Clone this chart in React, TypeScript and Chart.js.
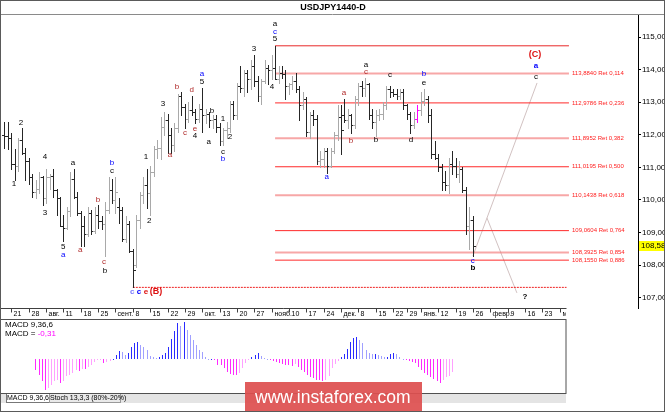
import React, { useEffect, useRef } from "react";
import { Chart, registerables } from "chart.js";

Chart.register(...registerables);

const FONT = '"Liberation Sans", Arial, Helvetica, sans-serif';
const NARROW = '"Liberation Sans Narrow", "Liberation Sans", Arial, sans-serif';

// ---------------- data ----------------
const chartTitle = "USDJPY1440-D";

const barOpen = [
  112.0, 111.95, 111.9, 111.1, 111.05, 111.85, 111.45, 111.2,
  110.7, 110.25, 110.35, 110.7, 110.05,
  110.7, 110.75, 110.3, 110.05, 109.2,
  109.15, 109.65, 110.65, 110.1, 109.6,
  109.2, 108.95, 109.6, 109.05, 109.55,
  109.35, 109.25, 109.7, 110.3, 110.0,
  109.8, 109.7, 108.8, 109.25, 108.45,
  108.0, 109.4, 110.15, 110.45, 110.2,
  110.85, 111.55, 111.6, 112.25, 112.45,
  112.0, 111.7, 112.2, 113.2, 112.85,
  112.5, 112.75, 112.7, 112.5, 112.8,
  112.6, 112.65, 112.45, 112.5, 112.25,
  111.8, 112.15, 112.2, 112.95, 112.6,
  113.5, 113.45, 113.9, 113.7, 114.1,
  113.65, 113.2, 113.65, 114.05, 114.0,
  114.05, 113.7, 113.9, 113.85, 113.5,
  113.55, 113.65, 113.4, 112.9, 113.1,
  112.1, 112.6, 112.5, 111.2, 111.25,
  111.5, 111.05, 111.5, 112.0, 112.55,
  112.6, 112.45, 112.6, 112.3, 113.1,
  113.5, 113.45, 113.55, 112.6, 112.4,
  112.6, 112.65, 112.9, 113.4, 113.3,
  113.25, 113.2, 113.3, 112.9,
  112.65, 112.3, 112.5, 112.75,
  113.05, 113.1, 112.6, 111.4, 111.3,
  111.0, 110.55, 110.45, 111.1, 111.05,
  110.8, 110.95, 110.3, 109.2, 109.4,
];
const barHigh = [
  112.4, 112.4, 112.05, 111.55, 111.9, 112.2, 111.6, 111.3,
  110.8, 110.6, 110.85, 110.75, 110.95,
  110.8, 110.95, 110.35, 110.1, 109.55,
  109.8, 110.85, 110.95, 110.25, 109.65,
  109.5, 109.8, 109.7, 109.8, 109.85,
  109.5, 109.95, 110.7, 110.65, 110.7,
  110.05, 109.8, 109.5, 109.35, 108.5,
  109.55, 110.25, 110.7, 110.95, 111.05,
  111.65, 111.85, 112.55, 112.7, 112.65,
  112.2, 112.35, 113.25, 113.3, 112.95,
  113.0, 113.2, 112.8, 112.95, 113.45,
  112.8, 112.7, 112.6, 112.6, 112.35,
  112.2, 112.4, 113.05, 113.05, 113.6,
  114.1, 114.0, 114.0, 114.3, 114.45,
  113.8, 113.7, 114.3, 114.15, 114.45,
  114.73, 114.1, 114.1, 114.0, 113.6,
  113.8, 113.9, 113.5, 113.3, 113.15,
  112.7, 112.75, 112.6, 111.5, 111.6,
  111.6, 111.6, 112.1, 112.9, 112.9,
  113.1, 112.8, 112.65, 113.2, 113.6,
  113.65, 113.75, 113.6, 112.8, 112.75,
  112.8, 113.0, 113.5, 113.5, 113.4,
  113.4, 113.4, 113.4, 112.95,
  112.7, 112.7, 112.9, 113.3,
  113.4, 113.2, 112.8, 111.8, 111.4,
  111.1, 110.9, 111.3, 111.5, 111.3,
  111.2, 111.0, 110.4, 109.8, 109.5,
];
const barLow = [
  111.6, 111.55, 110.95, 110.6, 110.9, 111.4, 110.6, 110.5,
  110.1, 110.05, 110.2, 109.85, 109.9,
  110.35, 110.1, 109.55, 109.2, 108.75,
  109.1, 109.5, 110.05, 109.55, 108.6,
  108.6, 108.9, 108.95, 109.0, 109.15,
  109.1, 108.27, 109.6, 109.9, 109.6,
  109.3, 108.75, 108.7, 108.4, 107.32,
  107.95, 109.15, 109.9, 109.75, 109.55,
  110.75, 111.3, 111.25, 112.0, 111.45,
  111.45, 111.5, 112.1, 112.6, 112.2,
  112.4, 112.6, 112.35, 112.4, 112.1,
  112.35, 112.25, 112.2, 112.1, 111.7,
  111.7, 111.9, 112.1, 112.5, 112.5,
  113.3, 113.2, 113.3, 113.4, 113.5,
  113.05, 112.95, 113.6, 113.55, 113.7,
  113.7, 113.6, 113.75, 113.1, 113.25,
  113.4, 113.3, 112.45, 112.8, 111.95,
  111.9, 112.3, 111.1, 111.0, 111.0,
  110.84, 111.0, 111.45, 111.85, 111.4,
  112.4, 112.2, 112.05, 112.2, 112.9,
  113.2, 113.2, 112.5, 112.2, 111.95,
  112.45, 112.5, 112.8, 113.15, 113.2,
  113.1, 113.1, 112.8, 112.5,
  112.05, 112.2, 112.4, 112.6,
  112.9, 112.4, 111.3, 111.25, 110.9,
  110.3, 110.3, 110.2, 110.8, 110.7,
  110.55, 110.25, 108.95, 108.5, 108.28,
];
const barClose = [
  111.95, 111.9, 111.1, 111.05, 111.85, 111.45, 111.2, 110.7,
  110.25, 110.35, 110.7, 110.05, 110.7,
  110.75, 110.3, 110.05, 109.2, 109.15,
  109.65, 110.65, 110.1, 109.6, 109.2,
  108.95, 109.6, 109.05, 109.55, 109.35,
  109.25, 109.7, 110.3, 110.0, 110.25,
  109.7, 108.8, 109.25, 108.45, 107.85,
  109.4, 110.15, 110.45, 110.2, 110.85,
  111.55, 111.6, 112.25, 112.45, 112.0,
  111.7, 112.2, 113.2, 112.85, 112.5,
  112.75, 112.7, 112.5, 112.8, 112.6,
  112.65, 112.45, 112.5, 112.25, 111.8,
  112.15, 112.2, 112.95, 112.6, 113.5,
  113.45, 113.9, 113.7, 114.1, 113.65,
  113.2, 113.65, 114.05, 114.0, 114.05,
  113.7, 113.9, 113.85, 113.5, 113.55,
  113.65, 113.4, 112.9, 113.1, 112.1,
  112.6, 112.5, 111.2, 111.25, 111.5,
  111.05, 111.5, 112.0, 112.55, 112.15,
  112.45, 112.6, 112.3, 113.1, 113.5,
  113.45, 113.55, 112.6, 112.4, 112.6,
  112.65, 112.9, 113.4, 113.3, 113.25,
  113.2, 113.3, 112.9, 112.65,
  112.3, 112.5, 112.75, 113.05,
  113.1, 112.6, 111.4, 111.3, 111.0,
  110.55, 110.45, 111.1, 111.05, 110.8,
  110.95, 110.3, 109.2, 109.4, 108.58,
];
const highlightedBar = 119;

const macdValues = [
  -0.26, -0.38, -0.54, -0.75, -0.71, -0.63, -0.54, -0.5, -0.59, -0.54,
  -0.41, -0.38, -0.34, -0.26, -0.28, -0.24, -0.24, -0.18, -0.14, -0.06,
  -0.02, -0.01, -0.08, -0.06, -0.03, 0.01, 0.1, 0.21, 0.19, 0.1,
  0.15, 0.31, 0.39, 0.41, 0.35, 0.31, 0.23, 0.07, 0.05, 0.04,
  0.05, 0.1, 0.16, 0.29, 0.49, 0.68, 0.88, 0.8, 0.92, 0.71,
  0.59, 0.47, 0.35, 0.23, 0.19, 0.05, 0.01, 0.01, -0.01, -0.14,
  -0.14, -0.22, -0.3, -0.36, -0.38, -0.38, -0.34, -0.22, -0.08, -0.01,
  0.05, 0.1, 0.15, 0.08, 0.02, 0.01, -0.01, -0.03, -0.06, -0.08,
  -0.11, -0.14, -0.14, -0.16, -0.11, -0.18, -0.26, -0.32, -0.38, -0.42,
  -0.46, -0.5, -0.51, -0.53, -0.5, -0.4, -0.22, -0.11, -0.04, 0.05,
  0.13, 0.24, 0.43, 0.51, 0.55, 0.47, 0.39, 0.23, 0.15, 0.13,
  0.13, 0.1, 0.09, 0.05, 0.05, 0.12, 0.15, 0.12, 0.05, 0.01,
  -0.02, -0.03, -0.06, -0.1, -0.18, -0.26, -0.34, -0.38, -0.42, -0.49,
  -0.54, -0.59, -0.5, -0.44, -0.41, -0.31,
];
const macdTitle = "MACD 9,36,6";
const macdCurrent = "-0,31";

const priceTicks = [107, 108, 109, 110, 111, 112, 113, 114, 115];
const lastPrice = 108.583;

const timeTickIdx = [2, 7, 12, 17, 22, 27, 32, 37, 42, 47, 52, 57, 62, 67, 72, 77, 82, 87, 92, 97, 102, 107, 112, 116, 120, 125, 130, 135, 140, 145, 150, 155, 160];
const timeTickText = ["21", "28", "авг.", "11", "18", "25", "сент.", "8", "15", "22", "29", "окт.", "13", "20", "27", "нояб.", "10", "17", "24", "дек.", "8", "15", "22", "29", "янв.", "12", "19", "26", "февр.", "9", "16", "23", "март"];

const fibPrice = [113.884, 112.9786, 111.8952, 111.0195, 110.1438, 109.0604, 108.3925, 108.155];
const fibRatio = [0.114, 0.236, 0.382, 0.5, 0.618, 0.764, 0.854, 0.886];
const fibStartIdx = 78;
const fibEndIdx = 162.7;
const waveTopC = 114.73;
const waveLowB = 107.32;
const waveLowIdx = 37;
const waveLowEndIdx = 162;

const projAIdx = [135, 153.5];
const projAPrice = [108.28, 113.59];
const projBIdx = [139.06, 147.7];
const projBPrice = [109.45, 107.15];

const waveText = ["a", "c", "5", "3", "4", "2", "1", "c", "b", "a", "b", "a", "5", "d", "e", "4", "b", "c", "3", "a", "1", "2", "c", "c", "e", "(B)", "b", "c", "b", "a", "5", "a", "a", "b", "c", "3", "4", "1", "2", "a", "c", "a", "b", "b", "c", "d", "b", "e", "a", "c", "b", "(C)", "a", "c", "?"];
const waveIdx = [77.96, 77.96, 77.96, 71.9, 77.1, 65.0, 63.0, 63.0, 63.0, 58.9, 59.8, 56.9, 56.9, 54.0, 54.9, 54.9, 49.7, 52.0, 45.7, 47.7, 40.8, 41.7, 36.8, 38.8, 40.8, 43.7, 26.95, 28.7, 29.0, 21.8, 16.9, 16.9, 19.75, 31.0, 31.0, 11.7, 11.7, 2.75, 4.76, 104.2, 104.2, 97.85, 99.9, 107.1, 111.1, 117.2, 120.9, 120.9, 92.9, 135.0, 135.0, 152.9, 153.2, 153.2, 150.0];
const wavePrice = [115.4, 115.15, 114.94, 114.63, 113.47, 111.93, 112.48, 111.47, 111.26, 111.78, 112.73, 113.87, 113.62, 113.37, 112.18, 111.96, 113.47, 112.06, 112.94, 111.38, 111.32, 109.36, 107.18, 107.18, 107.18, 107.18, 110.0, 108.1, 107.82, 108.47, 108.56, 108.31, 111.13, 111.13, 110.89, 109.6, 111.32, 110.49, 112.36, 114.14, 113.93, 113.28, 111.81, 111.84, 113.83, 111.84, 113.87, 113.59, 110.71, 108.13, 107.91, 114.45, 114.11, 113.77, 107.02];
const waveKind = ["k", "b", "k", "k", "k", "k", "k", "k", "b", "k", "k", "b", "k", "r", "r", "k", "r", "r", "k", "r", "k", "k", "lb", "bB", "rB", "RB", "r", "r", "k", "r", "k", "b", "k", "b", "k", "k", "k", "k", "k", "k", "r", "r", "r", "k", "k", "k", "b", "k", "b", "b", "kB", "RB", "bB", "k", "kB"];

// ---------------- styles ----------------
const UP_COLOR = "#a9a9a9";
const DOWN_COLOR = "#262626";
const HIGHLIGHT_COLOR = "#ff00ff";
const KIND_STYLE: Record<string, { color: string; font: string }> = {
  k: { color: "#000000", font: `8px ${FONT}` },
  kB: { color: "#000000", font: `bold 8px ${FONT}` },
  b: { color: "#0000ff", font: `8px ${FONT}` },
  bB: { color: "#0000ff", font: `bold 8px ${FONT}` },
  lb: { color: "#7a7aff", font: `bold 8px ${FONT}` },
  r: { color: "#b02a2a", font: `8px ${FONT}` },
  rB: { color: "#dd1010", font: `bold 8px ${FONT}` },
  RB: { color: "#dd1010", font: `bold 9px ${FONT}` },
};

const fmt = (v: number, d: number) => v.toFixed(d).replace(".", ",");

const mainDecor = {
  id: "mainDecor",
  beforeDraw(chart: any) {
    const ctx = chart.ctx;
    ctx.save();
    ctx.fillStyle = "#ffffff";
    ctx.fillRect(0, 0, chart.width, chart.height);
    ctx.fillStyle = "#000";
    ctx.font = `bold 9px ${FONT}`;
    ctx.textAlign = "center";
    ctx.textBaseline = "middle";
    ctx.fillText(chartTitle, 333, 7.5);
    ctx.strokeStyle = "#8a8a8a";
    ctx.lineWidth = 1;
    ctx.beginPath();
    ctx.moveTo(0, 14.5);
    ctx.lineTo(chart.width, 14.5);
    ctx.stroke();
    ctx.restore();
  },
  afterDatasetsDraw(chart: any) {
    const ctx = chart.ctx;
    const xs = chart.scales.x;
    const ys = chart.scales.y;
    ctx.save();
    // OHLC bars
    for (let i = 0; i < barOpen.length; i++) {
      const px = Math.round(xs.getPixelForValue(i));
      const yh = Math.round(ys.getPixelForValue(barHigh[i]));
      const yl = Math.round(ys.getPixelForValue(barLow[i]));
      const yo = Math.round(ys.getPixelForValue(barOpen[i]));
      const yc = Math.round(ys.getPixelForValue(barClose[i]));
      ctx.fillStyle = i === highlightedBar ? HIGHLIGHT_COLOR : barClose[i] >= barOpen[i] ? UP_COLOR : DOWN_COLOR;
      ctx.fillRect(px, yh, 1, Math.max(1, yl - yh + 1));
      ctx.fillRect(px - 2, yo, 2, 1);
      ctx.fillRect(px + 1, yc, 2, 1);
    }
    // wave labels
    ctx.textAlign = "center";
    ctx.textBaseline = "middle";
    for (let k = 0; k < waveText.length; k++) {
      const st = KIND_STYLE[waveKind[k]];
      ctx.fillStyle = st.color;
      ctx.font = st.font;
      ctx.fillText(waveText[k], xs.getPixelForValue(waveIdx[k]), ys.getPixelForValue(wavePrice[k]));
    }
    // fib labels
    ctx.textAlign = "left";
    ctx.font = `6px ${FONT}`;
    ctx.fillStyle = "#ff2020";
    const lx = xs.getPixelForValue(fibEndIdx) + 3;
    for (let k = 0; k < fibPrice.length; k++) {
      ctx.fillText(`${fmt(fibPrice[k], 4)} Ret ${fmt(fibRatio[k], 3)}`, lx, ys.getPixelForValue(fibPrice[k]));
    }
    ctx.restore();
  },
  afterDraw(chart: any) {
    const ctx = chart.ctx;
    const xs = chart.scales.x;
    const ys = chart.scales.y;
    const area = chart.chartArea;
    ctx.save();
    // current price box
    const yp = ys.getPixelForValue(lastPrice);
    ctx.fillStyle = "#ffff00";
    ctx.fillRect(area.right + 1, Math.round(yp) - 5, 30, 10);
    ctx.fillStyle = "#000";
    ctx.font = `8px ${NARROW}`;
    ctx.textAlign = "left";
    ctx.textBaseline = "middle";
    ctx.fillText(fmt(lastPrice, 3), area.right + 3, yp);
    // time axis
    const axisRight = 566;
    const y0 = Math.round(area.bottom) + 0.5;
    ctx.strokeStyle = "#404040";
    ctx.lineWidth = 1;
    ctx.beginPath();
    ctx.moveTo(0, y0);
    ctx.lineTo(axisRight + 0.5, y0);
    ctx.stroke();
    ctx.beginPath();
    ctx.rect(0, y0, axisRight, 12);
    ctx.clip();
    ctx.font = `7px ${FONT}`;
    ctx.fillStyle = "#000";
    for (let k = 0; k < timeTickIdx.length; k++) {
      const px = Math.round(xs.getPixelForValue(timeTickIdx[k])) + 0.5;
      ctx.beginPath();
      ctx.moveTo(px, y0);
      ctx.lineTo(px, y0 + 4);
      ctx.stroke();
      ctx.fillText(timeTickText[k], px + 2, y0 + 6);
    }
    ctx.restore();
  },
};

const macdDecor = {
  id: "macdDecor",
  beforeDraw(chart: any) {
    const ctx = chart.ctx;
    ctx.save();
    ctx.fillStyle = "#fff";
    ctx.fillRect(0, 0, chart.width, chart.height);
    ctx.restore();
  },
  afterDraw(chart: any) {
    const ctx = chart.ctx;
    const xs = chart.scales.x;
    const ys = chart.scales.y;
    ctx.save();
    const z = Math.round(ys.getPixelForValue(0));
    for (let i = 0; i < macdValues.length; i++) {
      const v = macdValues[i];
      const prev = i > 0 ? macdValues[i - 1] : 0;
      let color: string;
      if (v >= 0) color = v >= prev ? "#2a2aff" : "#a0a0ff";
      else color = v <= prev ? "#ff2aff" : "#ffa0ff";
      const px = Math.round(xs.getPixelForValue(i));
      const yv = Math.round(ys.getPixelForValue(v));
      ctx.fillStyle = color;
      const top = Math.min(z, yv);
      ctx.fillRect(px, top, 1, Math.max(1, Math.abs(yv - z)));
    }
    // border
    ctx.strokeStyle = "#505050";
    ctx.lineWidth = 1;
    ctx.strokeRect(-0.5, 0.5, chart.width - 0.5, chart.height - 1);
    // texts
    ctx.font = `8px ${FONT}`;
    ctx.textAlign = "left";
    ctx.textBaseline = "middle";
    ctx.fillStyle = "#000";
    ctx.fillText(macdTitle, 5, 6);
    ctx.fillText("MACD = ", 5, 14.5);
    const w = ctx.measureText("MACD = ").width;
    ctx.fillStyle = "#ff00ff";
    ctx.fillText(macdCurrent, 5 + w, 14.5);
    ctx.restore();
  },
};

export default function App() {
  const mainRef = useRef<HTMLCanvasElement>(null);
  const macdRef = useRef<HTMLCanvasElement>(null);

  useEffect(() => {
    const lineDs = (xa: number[], ya: number[], color: string, width: number, dash: number[] = []) => ({
      type: "line" as const,
      data: xa.map((x, i) => ({ x, y: ya[i] })),
      borderColor: color,
      borderWidth: width,
      borderDash: dash,
      pointRadius: 0,
      tension: 0,
      fill: false,
    });
    const datasets: any[] = [];
    fibPrice.forEach((p, k) => {
      const light = k % 2 === 0;
      datasets.push(
        lineDs([fibStartIdx, fibEndIdx], [p, p], light ? "rgba(242,120,120,0.65)" : "#ff2a2a", light ? 2 : 1)
      );
    });
    datasets.push(lineDs([fibStartIdx, fibEndIdx], [waveTopC, waveTopC], "#e82828", 1));
    datasets.push(lineDs([waveLowIdx, waveLowEndIdx], [waveLowB, waveLowB], "#ee2020", 1, [2, 1]));
    datasets.push(lineDs(projAIdx, projAPrice, "#d2c2c2", 1));
    datasets.push(lineDs(projBIdx, projBPrice, "#d2c2c2", 1));

    const main = new Chart(mainRef.current as HTMLCanvasElement, {
      type: "line",
      data: { datasets },
      options: {
        animation: false,
        responsive: false,
        maintainAspectRatio: false,
        devicePixelRatio: 1,
        events: [],
        layout: { padding: { left: 1, top: 15, right: 0, bottom: 12 } },
        plugins: { legend: { display: false }, tooltip: { enabled: false }, title: { display: false } },
        scales: {
          x: { type: "linear", min: -1, max: 182.6, display: false },
          y: {
            type: "linear",
            position: "right",
            min: 106.687,
            max: 115.675,
            afterFit: (s: any) => {
              s.width = 27;
            },
            afterBuildTicks: (s: any) => {
              s.ticks = priceTicks.map((v) => ({ value: v }));
            },
            grid: { drawOnChartArea: false, drawTicks: true, tickLength: 3, color: "#000" },
            border: { display: true, color: "#000", width: 1 },
            ticks: {
              autoSkip: false,
              padding: 1,
              color: "#000",
              font: { size: 8, family: NARROW },
              callback: (v: any) => fmt(Number(v), 3),
            },
          },
        },
      } as any,
      plugins: [mainDecor],
    });

    const macd = new Chart(macdRef.current as HTMLCanvasElement, {
      type: "bar",
      data: { datasets: [] },
      options: {
        animation: false,
        responsive: false,
        maintainAspectRatio: false,
        devicePixelRatio: 1,
        events: [],
        layout: { padding: { left: 1, top: 1, right: 1, bottom: 1 } },
        plugins: { legend: { display: false }, tooltip: { enabled: false } },
        scales: {
          x: { type: "linear", min: -1, max: 161.8, display: false },
          y: { type: "linear", min: -0.822, max: 0.9585, display: false },
        },
      } as any,
      plugins: [macdDecor],
    });

    return () => {
      main.destroy();
      macd.destroy();
    };
  }, []);

  return (
    <div
      style={{
        position: "fixed",
        left: 0,
        top: 0,
        width: 665,
        height: 412,
        background: "#fff",
        overflow: "hidden",
        fontFamily: FONT,
      }}
    >
      <canvas ref={mainRef} width={665} height={320} style={{ position: "absolute", left: 0, top: 0 }} />
      <canvas ref={macdRef} width={567} height={75} style={{ position: "absolute", left: 0, top: 319 }} />
      <div style={{ position: "absolute", left: 1, top: 394, width: 565, height: 9, background: "#e4e4e4" }} />
      <div
        style={{
          position: "absolute",
          left: 6,
          top: 394,
          width: 42,
          height: 8,
          background: "#fff",
          border: "1px solid #777",
          borderTop: "none",
          fontSize: 7,
          lineHeight: "8px",
          textAlign: "center",
          color: "#000",
          whiteSpace: "nowrap",
        }}
      >
        MACD 9,36,6
      </div>
      <div
        style={{
          position: "absolute",
          left: 49,
          top: 394,
          width: 70,
          height: 8,
          background: "#e9e9e9",
          border: "1px solid #999",
          borderTop: "none",
          fontSize: 7,
          lineHeight: "8px",
          textAlign: "center",
          color: "#000",
          whiteSpace: "nowrap",
        }}
      >
        Stoch 13,3,3 (80%-20%)
      </div>
      <div
        style={{
          position: "absolute",
          left: 245,
          top: 382,
          width: 177,
          height: 30,
          background: "rgba(222,80,80,0.93)",
          color: "#fff",
          fontSize: 17.5,
          lineHeight: "30px",
          paddingLeft: 10,
          boxSizing: "border-box",
          whiteSpace: "nowrap",
        }}
      >
        www.instaforex.com
      </div>
      <div
        style={{
          position: "absolute",
          left: 0,
          top: 0,
          width: 665,
          height: 412,
          boxSizing: "border-box",
          border: "1px solid #5a5a5a",
          pointerEvents: "none",
        }}
      />
    </div>
  );
}
